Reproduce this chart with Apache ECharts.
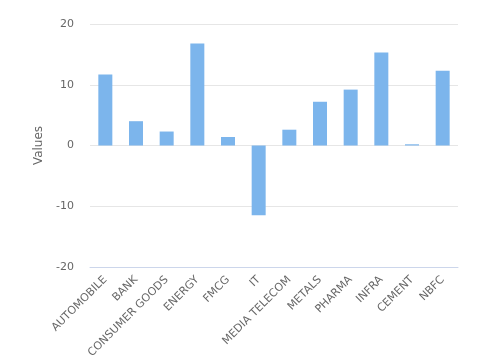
<!DOCTYPE html>
<html><head><meta charset="utf-8">
<script src="https://cdn.jsdelivr.net/npm/echarts@6/dist/echarts.min.js"></script>
<style>html,body{margin:0;padding:0;background:#fff}#c{width:487px;height:357px}</style>
</head><body><div id="c"></div>
<script>
const categories = ['AUTOMOBILE','BANK','CONSUMER GOODS','ENERGY','FMCG','IT','MEDIA TELECOM','METALS','PHARMA','INFRA','CEMENT','NBFC'];
const values = [11.7, 4.0, 2.3, 16.8, 1.4, -11.5, 2.6, 7.2, 9.2, 15.3, 0.2, 12.3];
const yTicks = [-20, -10, 0, 10, 20];
const yName = 'Values';
const font = '"DejaVu Sans", sans-serif';
const chart = echarts.init(document.getElementById('c'));
chart.setOption({
  animation: false,
  grid: {left: 90, right: 29, top: 24, bottom: 90, containLabel: false, outerBoundsMode: 'none'},
  xAxis: {
    type: 'category', data: categories,
    axisLine: {onZero: false, lineStyle: {color: '#ccd6eb'}},
    axisTick: {length: 9, lineStyle: {color: '#ccd6eb'}},
    axisLabel: {rotate: 45, color: '#666666', fontSize: 11, fontFamily: font, interval: 0, margin: 11}
  },
  yAxis: {
    type: 'value', min: yTicks[0], max: yTicks[yTicks.length-1], interval: 10,
    name: yName, nameLocation: 'middle', nameGap: 45, nameRotate: 90,
    nameTextStyle: {color: '#666666', fontSize: 12, fontFamily: font},
    axisLine: {show: false}, axisTick: {show: false},
    axisLabel: {color: '#666666', fontSize: 11, fontFamily: font, margin: 16},
    splitLine: {lineStyle: {color: '#e6e6e6'}}
  },
  series: [{
    type: 'bar', data: values, barWidth: 14,
    itemStyle: {color: '#7cb5ec'}
  }]
});
</script></body></html>
